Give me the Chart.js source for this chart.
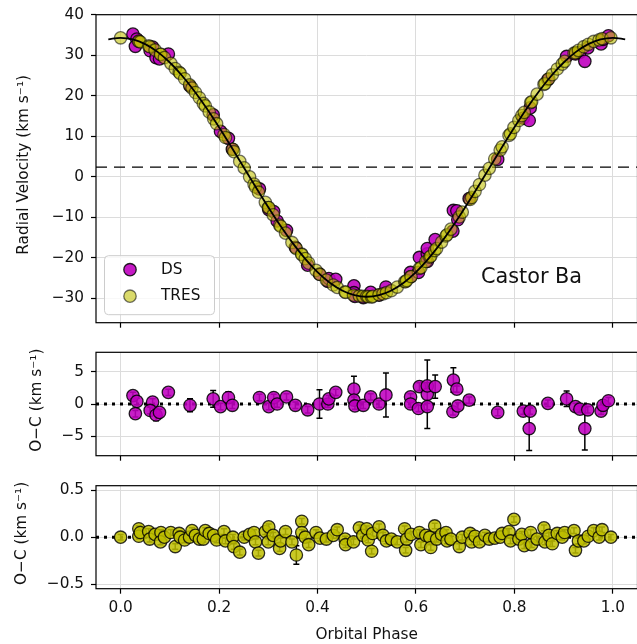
<!DOCTYPE html>
<html><head><meta charset="utf-8">
<script src="https://cdn.jsdelivr.net/npm/chart.js@4.4.1/dist/chart.umd.min.js"></script>
<style>
html,body{margin:0;padding:0;background:#fff;overflow:hidden;width:637px;height:644px;position:relative;}
canvas{position:absolute;left:0;}
</style></head><body>
<canvas id="c1" width="645" height="355" style="top:-10px"></canvas>
<canvas id="c2" width="645" height="160" style="top:320px"></canvas>
<canvas id="c3" width="645" height="184" style="top:460px"></canvas>
<script>
// ---------------- data ----------------
const phaseTicks = [0, 0.2, 0.4, 0.6, 0.8, 1.0];
const rvTicks = [-30, -20, -10, 0, 10, 20, 30, 40];
const dsOcTicks = [-5, 0, 5];
const tresOcTicks = [-0.5, 0, 0.5];
const systemicRV = 2.4;

const modelPhase = [-0.025,0,0.025,0.05,0.075,0.1,0.125,0.15,0.175,0.2,0.225,0.25,0.275,0.3,0.325,0.35,0.375,0.4,0.425,0.45,0.475,0.5,0.525,0.55,0.575,0.6,0.625,0.65,0.675,0.7,0.725,0.75,0.775,0.8,0.825,0.85,0.875,0.9,0.925,0.95,0.975,1.0,1.025];
const modelRV = [33.91,34.30,33.91,32.74,30.82,28.20,24.94,21.13,16.86,12.22,7.35,2.35,-2.65,-7.52,-12.16,-16.43,-20.24,-23.50,-26.12,-28.04,-29.21,-29.60,-29.21,-28.04,-26.12,-23.50,-20.24,-16.43,-12.16,-7.52,-2.65,2.35,7.35,12.22,16.86,21.13,24.94,28.20,30.82,32.74,33.91,34.30,33.91];

const dsPhase = [0.025,0.033,0.030,0.065,0.060,0.072,0.079,0.097,0.141,0.188,0.203,0.219,0.227,0.282,0.301,0.311,0.318,0.337,0.355,0.380,0.404,0.421,0.423,0.437,0.474,0.474,0.476,0.493,0.508,0.525,0.539,0.589,0.589,0.605,0.607,0.623,0.623,0.623,0.639,0.675,0.676,0.683,0.685,0.708,0.766,0.818,0.830,0.832,0.868,0.906,0.924,0.933,0.943,0.949,0.976,0.980,0.991];
const dsRV = [35.2,34.0,32.2,32.0,31.1,29.4,29.1,30.3,22.4,15.3,11.2,9.5,6.8,-3.0,-8.1,-8.6,-10.9,-13.2,-17.4,-21.8,-24.0,-25.8,-25.1,-25.3,-26.9,-28.6,-29.5,-29.8,-28.5,-29.2,-27.2,-23.6,-24.7,-23.6,-19.9,-19.0,-17.7,-20.9,-15.5,-13.4,-8.3,-8.4,-10.6,-5.4,4.3,14.5,13.9,17.0,24.0,29.7,30.3,30.7,28.5,31.8,32.8,33.9,34.8];
const dsOC = [1.3,0.4,-1.5,0.3,-1.0,-1.7,-1.3,1.8,-0.2,0.8,-0.4,1.0,-0.2,1.0,-0.4,1.0,0.0,1.1,-0.2,-0.9,0.0,0.0,0.8,1.8,2.3,0.6,-0.3,-0.2,1.1,0.0,1.4,1.1,0.0,-0.7,2.7,1.5,2.8,-0.4,2.7,-1.2,3.7,2.3,-0.3,0.6,-1.3,-1.1,-3.8,-1.1,0.1,0.8,-0.4,-0.8,-3.8,-0.9,-1.1,-0.2,0.5];
const dsErr = [0.5,0.5,0.5,0.5,0.5,0.9,0.5,0.5,1.0,1.3,0.5,0.9,0.5,0.5,0.5,0.5,0.5,0.5,0.5,0.5,2.2,0.5,0.5,0.5,2.0,0.5,0.5,0.5,0.5,0.5,3.4,0.5,0.5,0.5,0.6,5.3,0.5,0.5,1.8,0.5,1.9,0.5,0.5,0.5,0.5,0.5,3.4,0.5,0.5,1.2,0.5,0.5,3.3,0.5,0.5,0.5,0.5];

const tresPhase = [0.000,0.037,0.037,0.040,0.057,0.059,0.070,0.082,0.081,0.089,
 0.102,0.111,0.119,0.121,0.130,0.140,0.145,0.152,0.160,0.168,
 0.172,0.180,0.189,0.195,0.210,0.213,0.228,0.230,0.242,0.251,
 0.262,0.271,0.274,0.280,0.294,0.300,0.301,0.310,0.323,0.325,
 0.335,0.348,0.357,0.368,0.368,0.375,0.382,0.397,0.405,0.418,
 0.432,0.440,0.456,0.457,0.473,0.485,0.492,0.500,0.503,0.510,
 0.512,0.525,0.533,0.540,0.550,0.562,0.577,0.579,0.581,0.590,
 0.607,0.610,0.620,0.628,0.630,0.638,0.642,0.652,0.661,0.663,
 0.671,0.688,0.694,0.710,0.713,0.720,0.729,0.740,0.749,0.760,
 0.771,0.775,0.789,0.792,0.799,0.809,0.815,0.820,0.833,0.835,
 0.846,0.860,0.862,0.870,0.877,0.887,0.897,0.902,0.921,0.924,
 0.930,0.941,0.950,0.961,0.972,0.978,0.996];
const tresRV = [34.3,33.5,33.4,33.3,32.3,32.1,31.3,30.2,30.2,29.4,
 28.0,26.7,25.8,25.5,24.2,22.7,21.9,20.8,19.5,18.1,
 17.5,16.0,14.3,13.1,10.4,9.7,6.8,6.2,3.8,2.2,
 0.0,-1.8,-2.5,-3.8,-6.3,-7.6,-7.6,-9.4,-11.9,-12.2,
 -13.9,-16.2,-17.7,-19.1,-19.2,-20.2,-21.3,-23.1,-24.1,-25.5,
 -26.7,-27.3,-28.4,-28.5,-29.2,-29.4,-29.5,-29.5,-29.6,-29.7,
 -29.5,-29.1,-28.9,-28.6,-28.1,-27.2,-25.9,-25.9,-25.6,-24.6,
 -22.6,-22.4,-20.9,-19.8,-19.6,-18.2,-17.7,-16.1,-14.6,-14.3,
 -12.9,-9.9,-8.7,-5.6,-5.1,-3.6,-1.9,0.4,2.1,4.4,
 6.6,7.4,10.2,10.6,12.2,13.9,15.1,15.9,18.3,18.5,
 20.4,22.8,23.0,24.2,25.2,26.6,27.8,28.5,30.5,30.6,
 31.2,32.1,32.7,33.4,33.8,34.1,34.3];
const tresOC = [0.00,0.09,0.01,0.05,0.06,-0.02,0.03,0.05,-0.05,0.00,
 0.05,-0.10,0.04,0.00,-0.03,0.00,0.07,0.02,-0.02,-0.02,
 0.07,0.04,0.02,-0.03,0.06,-0.04,0.00,-0.10,-0.16,0.00,
 0.03,0.05,-0.05,-0.17,0.06,-0.05,0.11,0.02,-0.12,-0.04,
 0.06,-0.05,-0.19,0.17,0.05,0.00,-0.08,0.05,-0.01,-0.02,
 0.02,0.08,-0.02,-0.08,-0.05,0.10,0.02,0.09,-0.03,-0.15,
 0.04,0.11,0.02,-0.04,-0.02,-0.05,0.09,-0.14,-0.02,0.03,
 0.05,-0.08,0.02,0.00,-0.11,0.12,-0.02,0.03,0.05,-0.04,
 -0.02,-0.10,0.00,0.04,-0.05,0.01,-0.05,0.02,-0.02,-0.01,
 0.00,0.04,0.06,-0.04,0.19,-0.02,0.03,-0.09,0.05,-0.08,
 -0.02,0.10,-0.05,0.02,-0.07,0.04,0.00,0.05,0.07,-0.14,
 -0.04,-0.04,0.01,0.07,0.00,0.08,0.00];
const tresErr = [0.03,0.03,0.03,0.03,0.03,0.03,0.03,0.03,0.03,0.03,
 0.03,0.03,0.03,0.03,0.03,0.03,0.03,0.03,0.03,0.03,
 0.03,0.03,0.03,0.03,0.03,0.03,0.03,0.03,0.03,0.03,
 0.03,0.03,0.03,0.03,0.03,0.03,0.03,0.03,0.03,0.03,
 0.03,0.03,0.10,0.03,0.03,0.03,0.03,0.03,0.03,0.03,
 0.03,0.03,0.03,0.03,0.03,0.03,0.03,0.03,0.03,0.03,
 0.03,0.03,0.03,0.03,0.03,0.03,0.03,0.03,0.03,0.03,
 0.03,0.03,0.03,0.03,0.03,0.03,0.03,0.03,0.03,0.03,
 0.03,0.03,0.03,0.03,0.03,0.03,0.03,0.03,0.03,0.03,
 0.03,0.03,0.03,0.03,0.03,0.03,0.03,0.03,0.03,0.03,
 0.03,0.03,0.03,0.03,0.03,0.03,0.03,0.03,0.03,0.03,
 0.03,0.03,0.03,0.03,0.03,0.03,0.03];

// ---------------- styling ----------------
const FS = 15.3;
Chart.defaults.font.family = "'DejaVu Sans', sans-serif";
Chart.defaults.font.size = FS;
Chart.defaults.color = '#111';
const FONT = {family:"'DejaVu Sans', sans-serif", size:FS};
const GRID = '#dcdcdc';
const DS_FILL_TOP = 'rgba(191,0,191,0.9)', DS_EDGE_TOP = 'rgba(0,0,0,0.85)';
const TR_FILL_TOP = 'rgba(191,191,0,0.58)', TR_EDGE_TOP = 'rgba(0,0,0,0.55)';
const DS_FILL = 'rgba(191,0,191,0.88)', DS_EDGE = 'rgba(0,0,0,0.85)';
const TR_FILL = 'rgba(191,191,0,0.85)', TR_EDGE = 'rgba(0,0,0,0.8)';
const PR = 6.2, PB = 1.3;

const minus = v => v < 0 ? '\u2212' + Math.abs(v) : String(v);
const minus1 = v => (v < 0 ? '\u2212' : '') + Math.abs(v).toFixed(1);
const pts = (xs, ys) => xs.map((x, i) => ({x, y: ys[i]}));
const setTicks = arr => s => { s.ticks = arr.map(v => ({value: v})); };

function xAxis(showLabels) {
  const ax = {
    type:'linear', min:-0.05, max:1.05,
    afterBuildTicks: setTicks(phaseTicks),
    grid:{color:GRID, tickColor:'#000', tickLength:5, lineWidth:1, tickWidth:1.2},
    border:{display:false},
    ticks:{display:showLabels, font:FONT, padding:5, maxRotation:0, callback:v => minus1(v)},
    title:{display:showLabels, text:'Orbital Phase', font:FONT, padding:{top:4, bottom:0}}
  };
  if (!showLabels) ax.afterFit = s => { s.height = 5; };
  return ax;
}
function yAxis(min, max, ticksArr, fmt, title, titlePad) {
  return {
    type:'linear', min, max,
    afterBuildTicks: setTicks(ticksArr),
    afterFit: s => { s.width = 96; },
    grid:{color:GRID, tickColor:'#000', tickLength:5, lineWidth:1, tickWidth:1.2},
    border:{display:false},
    ticks:{font:FONT, padding:7, callback:fmt},
    title:{display:true, text:title, font:FONT, padding:{top:titlePad, bottom:0}}
  };
}

const framePlugin = {id:'frame', afterDatasetsDraw(chart){
  const {ctx, chartArea:a} = chart;
  ctx.save(); ctx.strokeStyle = '#000'; ctx.lineWidth = 1.2;
  ctx.strokeRect(a.left, a.top, a.right - a.left, a.bottom - a.top);
  ctx.restore();
}};
function hline(value, dash, width) {
  return {id:'hline', beforeDatasetsDraw(chart){
    const {ctx, chartArea:a, scales} = chart;
    const y = scales.y.getPixelForValue(value);
    ctx.save(); ctx.beginPath(); ctx.rect(a.left, a.top, a.right - a.left, a.bottom - a.top); ctx.clip();
    ctx.strokeStyle = '#000'; ctx.lineWidth = width; ctx.setLineDash(dash); ctx.lineCap = 'butt';
    ctx.beginPath(); ctx.moveTo(a.left, y); ctx.lineTo(a.right, y); ctx.stroke();
    ctx.restore();
  }};
}
function errbars(xs, ys, es) {
  return {id:'errbars', beforeDatasetsDraw(chart){
    const {ctx, chartArea:a, scales} = chart;
    ctx.save(); ctx.beginPath(); ctx.rect(a.left, a.top, a.right - a.left, a.bottom - a.top); ctx.clip();
    ctx.strokeStyle = '#000'; ctx.lineWidth = 1.5;
    xs.forEach((xv, i) => {
      const px = scales.x.getPixelForValue(xv);
      const y1 = scales.y.getPixelForValue(ys[i] - es[i]);
      const y2 = scales.y.getPixelForValue(ys[i] + es[i]);
      ctx.beginPath();
      ctx.moveTo(px, y1); ctx.lineTo(px, y2);
      ctx.moveTo(px - 3, y1); ctx.lineTo(px + 3, y1);
      ctx.moveTo(px - 3, y2); ctx.lineTo(px + 3, y2);
      ctx.stroke();
    });
    ctx.restore();
  }};
}
function marker(ctx, x, y, fill, edge) {
  ctx.beginPath(); ctx.arc(x, y, PR, 0, Math.PI * 2);
  ctx.fillStyle = fill; ctx.fill();
  ctx.lineWidth = PB; ctx.strokeStyle = edge; ctx.stroke();
}
const legendPlugin = {id:'lg', afterDraw(chart){
  const {ctx, chartArea:a, scales} = chart;
  const bx = a.left + 8, bw = 110, bh = 59, by = a.bottom - 67.5;
  ctx.save();
  ctx.beginPath();
  if (ctx.roundRect) ctx.roundRect(bx + 0.5, by + 0.5, bw, bh, 4); else ctx.rect(bx + 0.5, by + 0.5, bw, bh);
  ctx.fillStyle = 'rgba(255,255,255,0.8)'; ctx.fill();
  ctx.strokeStyle = '#cccccc'; ctx.lineWidth = 1; ctx.stroke();
  marker(ctx, bx + 26, by + 14.5, DS_FILL_TOP, DS_EDGE_TOP);
  marker(ctx, bx + 26, by + 41, TR_FILL_TOP, TR_EDGE_TOP);
  ctx.fillStyle = '#111'; ctx.font = FS + "px 'DejaVu Sans'"; ctx.textBaseline = 'middle'; ctx.textAlign = 'left';
  ctx.fillText('DS', bx + 57, by + 14.5);
  ctx.fillText('TRES', bx + 57, by + 41);
  ctx.font = "20.8px 'DejaVu Sans'";
  ctx.fillText('Castor Ba', scales.x.getPixelForValue(0.732), scales.y.getPixelForValue(-24.8));
  ctx.restore();
}};

function fitArea(chart, t) {
  for (let k = 0; k < 8; k++) {
    const a = chart.chartArea, p = chart.config.options.layout.padding;
    const dT = t.top - a.top, dB = a.bottom - t.bottom, dL = t.left - a.left, dR = a.right - t.right;
    if (Math.abs(dT) + Math.abs(dB) + Math.abs(dL) + Math.abs(dR) < 0.05) break;
    p.top += dT; p.bottom += dB; p.left = Math.max(0, p.left + dL); p.right += dR;
    chart.update('none');
  }
}
const base = {responsive:false, animation:false, devicePixelRatio:1, events:[],
  plugins:{legend:{display:false}, tooltip:{enabled:false}}};

// ---------------- top panel (canvas offset -10 px) ----------------
const ch1 = new Chart(document.getElementById('c1'), {
  type:'scatter',
  data:{datasets:[
    {label:'DS', data:pts(dsPhase, dsRV), backgroundColor:DS_FILL_TOP, borderColor:DS_EDGE_TOP, borderWidth:PB, pointRadius:PR, order:3},
    {label:'TRES', data:pts(tresPhase, tresRV), backgroundColor:TR_FILL_TOP, borderColor:TR_EDGE_TOP, borderWidth:PB, pointRadius:PR, order:2},
    {label:'model', data:pts(modelPhase, modelRV), showLine:true, borderColor:'#000', borderWidth:1.8, pointRadius:0, cubicInterpolationMode:'monotone', fill:false, order:1}
  ]},
  options:Object.assign({}, base, {
    layout:{padding:{top:24.7, right:4.5, bottom:17.3, left:0}},
    scales:{x:xAxis(false), y:yAxis(-36, 40, rvTicks, v => minus(v), '\u2002Radial Velocity (km s\u207B\u00B9)', 14.8)}
  }),
  plugins:[hline(systemicRV, [11, 7], 1.3), framePlugin, legendPlugin]
});
fitArea(ch1, {left:96, top:24.7, right:640.5, bottom:332.7});

// ---------------- DS residuals (canvas at 320 px) ----------------
const ch2 = new Chart(document.getElementById('c2'), {
  type:'scatter',
  data:{datasets:[
    {label:'DS', data:pts(dsPhase, dsOC), backgroundColor:DS_FILL, borderColor:DS_EDGE, borderWidth:PB, pointRadius:PR}
  ]},
  options:Object.assign({}, base, {
    layout:{padding:{top:32.3, right:4.5, bottom:19.3, left:0}},
    scales:{x:xAxis(false), y:yAxis(-8, 8, dsOcTicks, v => minus(v), '\u2002O\u2212C (km s\u207B\u00B9)', 27.8)}
  }),
  plugins:[hline(0, [3, 5], 3), errbars(dsPhase, dsOC, dsErr), framePlugin]
});
fitArea(ch2, {left:96, top:32.3, right:640.5, bottom:135.7});

// ---------------- TRES residuals (canvas at 460 px) ----------------
const ch3 = new Chart(document.getElementById('c3'), {
  type:'scatter',
  data:{datasets:[
    {label:'TRES', data:pts(tresPhase, tresOC), backgroundColor:TR_FILL, borderColor:TR_EDGE, borderWidth:PB, pointRadius:PR}
  ]},
  options:Object.assign({}, base, {
    layout:{padding:{top:25.7, right:4.5, bottom:0, left:0}},
    scales:{x:xAxis(true), y:yAxis(-0.55, 0.55, tresOcTicks, v => minus1(v), '\u2002O\u2212C (km s\u207B\u00B9)', 12.8)}
  }),
  plugins:[hline(0, [3, 5], 3), errbars(tresPhase, tresOC, tresErr), framePlugin]
});
fitArea(ch3, {left:96, top:25.7, right:640.5, bottom:128.7});
</script>
</body></html>
